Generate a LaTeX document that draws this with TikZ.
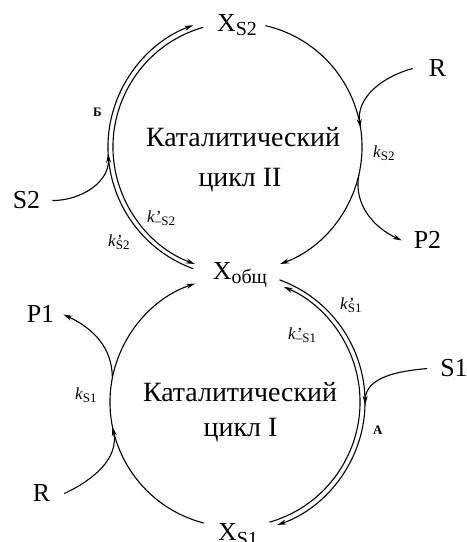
\documentclass[tikz,border=0pt]{standalone}
\usepackage{fontspec}
\setmainfont{Liberation Serif}
\usetikzlibrary{arrows.meta}
\newcommand\subsc[1]{\raisebox{-4bp}{\fontsize{20}{20}\selectfont #1}}
\newcommand\ksub[1]{\raisebox{-3bp}{\fontsize{13}{13}\selectfont #1}}
\newcommand\kk[1]{\textit{k}\ksub{#1}}
\newcommand\kp[1]{\textit{k}\rlap{\textit{'}}\ksub{#1}}
\begin{document}
\begin{tikzpicture}[x=1bp,y=1bp,
  lab/.style={font=\fontsize{26}{26}\selectfont, inner sep=0pt, anchor=base},
  cyc/.style={font=\fontsize{28}{28}\selectfont, inner sep=0pt, anchor=base},
  rate/.style={font=\fontsize{17}{17}\selectfont, inner sep=0pt, anchor=base west},
  tagb/.style={font=\fontsize{13}{13}\selectfont\bfseries, inner sep=0pt, anchor=base west},
  ln/.style={line width=1.1bp},
  arr/.style={ln, -{Stealth[length=9bp,width=5bp]}}
]
\useasboundingbox (0,0) rectangle (467,542);
\coordinate (C2) at (237.5,395);
\coordinate (C1) at (235,140);
% labels
\node[lab] (XS2) at (237,510) {X\subsc{S2}};
\node[lab] (Xo) at (240,262) {X\subsc{общ}};
\node[lab] (XS1) at (238,1) {X\subsc{S1}};
\node[lab, inner xsep=12bp] (S2) at (26.5,333) {S2};
\node[lab, inner xsep=16bp] (R2) at (437.5,465) {R};
\node[lab, inner xsep=12bp] (P2) at (427.5,293) {P2};
\node[lab, inner xsep=9bp] (P1) at (40.5,219) {P1};
\node[lab, inner xsep=14bp] (R1) at (41.5,40) {R};
\node[lab, inner xsep=13bp] (S1) at (454,165) {S1};
% cycle texts
\node[cyc] (t2a) at (243,395) {Каталитический};
\node[cyc] (t2b) at (240,355) {цикл II};
\node[cyc] (t1a) at (240,140) {Каталитический};
\node[cyc] (t1b) at (240.5,105) {цикл I};
% rate constants
\node[rate] (kS2) at (373,384) {\kk{S2}};
\node[rate] (kS1) at (75,142) {\kk{S1}};
\node[rate] (kpS1) at (340,232) {\kp{S1}};
\node[rate] (kmS1) at (288,202) {\kp{–S1}};
\node[rate] (kmS2) at (147,319) {\kp{–S2}};
\node[rate] (kpS2) at (108,295) {\kp{S2}};
\node[tagb] (tB) at (93,425) {Б};
\node[tagb] (tA) at (373,107) {А};
% upper cycle
\draw[arr] ([shift={(77:124.5)}]C2) arc[start angle=77,end angle=-70,radius=124.5];
\draw[arr] ([shift={(250:129.5)}]C2) arc[start angle=250,end angle=110,radius=129.5];
\draw[arr] ([shift={(106:124.5)}]C2) arc[start angle=106,end angle=250,radius=124.5];
% lower cycle
\draw[arr] ([shift={(255.5:125)}]C1) arc[start angle=255.5,end angle=108.6,radius=125];
\draw[arr] ([shift={(70:130)}]C1) arc[start angle=70,end angle=-71,radius=130];
\draw[arr] ([shift={(-74:125)}]C1) arc[start angle=-74,end angle=67,radius=125];
% side reactions
\coordinate (jS2) at ([shift={(183:129.5)}]C2);
\draw[arr] (S2.east) to[out=0,in=-87] (jS2);
\coordinate (jR2) at ([shift={(8.8:124.5)}]C2);
\draw[arr] (R2.west) to[out=195,in=99] (jR2);
\coordinate (bP2) at ([shift={(-13:124.5)}]C2);
\draw[arr] (bP2) to[out=-100,in=155] (P2.west);
\coordinate (jR1) at ([shift={(191.5:125)}]C1);
\draw[arr] (R1.east) to[out=25,in=-78] (jR1);
\coordinate (bP1) at ([shift={(168.9:125)}]C1);
\draw[arr] (bP1) to[out=90,in=-25] (P1.east);
\coordinate (jS1) at ([shift={(-1.3:130)}]C1);
\draw[arr] (S1.west) to[out=185,in=88] (jS1);
\end{tikzpicture}
\end{document}
